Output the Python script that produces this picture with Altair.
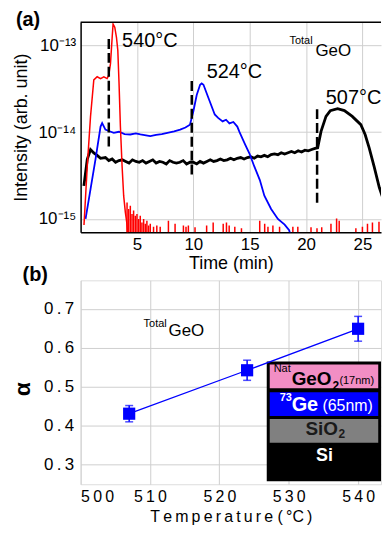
import altair as alt
import pandas as pd

FONT = "Liberation Sans"
THIN = "\u2009"

# ---------------- Panel (a): intensity (units of 1e-15 arb. unit) vs time (min)
red_t = [0.30, 0.59, 0.88, 1.17, 1.47, 1.77, 2.06, 2.35, 2.50, 2.65, 2.80, 2.88,
         3.03, 3.18, 3.30, 3.41, 3.53, 3.68, 3.82, 3.97, 4.10, 4.20]
red_v = [0.85, 4.05, 15.2, 40.0, 43.5, 41.5, 43.5, 41.5, 45.4, 61.6, 124, 176,
         162, 124, 87.7, 36.4, 11.6, 4.05, 1.84, 1.19, 0.90, 0.60]

spike_t = [4.12, 4.26, 4.41, 4.56, 4.70, 4.85, 5.00, 5.15, 5.29, 5.44,
           5.59, 5.74, 5.88, 6.03, 6.18, 6.47, 6.76, 7.06, 7.79, 8.38,
           9.12, 9.35, 9.56, 10.15, 11.18, 11.76, 12.65, 12.94, 13.18, 13.68,
           14.27, 15.89, 16.33, 16.62, 17.06, 17.65, 18.83, 19.27, 20.44, 20.97,
           21.39, 22.21, 22.71, 22.94, 24.42, 25.00, 25.45, 25.89, 26.47]
spike_v = [1.55, 1.30, 1.42, 1.14, 1.25, 1.09, 1.14, 1.00, 1.09, 0.91,
           1.00, 0.88, 0.95, 0.84, 0.88, 0.81, 0.84, 0.81, 0.95, 0.88,
           0.84, 0.81, 0.84, 0.80, 0.84, 0.91, 0.88, 0.91, 0.84, 0.81,
           0.78, 0.95, 0.88, 0.81, 0.84, 0.81, 0.81, 0.81, 0.80, 0.78,
           0.80, 0.88, 1.01, 0.95, 0.78, 0.81, 0.88, 0.91, 0.93]

blue_t = [0.44, 0.88, 1.32, 1.77, 1.91, 2.20, 2.50, 2.94, 3.40, 3.90,
          4.41, 4.90, 5.30, 5.80, 6.18, 6.70, 7.20, 7.70, 8.30, 8.83,
          9.30, 9.70, 10.00, 10.30, 10.60, 10.74, 10.90, 11.30, 11.90, 12.20,
          12.60, 12.90, 13.20, 13.55, 13.90, 14.10, 14.60, 15.00, 15.40, 15.90,
          16.30, 16.90, 17.50, 18.10, 18.50, 18.70]
blue_v = [1.0, 2.2, 4.85, 11.6, 12.7, 10.7, 10.3, 9.8, 10.1, 9.5,
          9.4, 9.7, 9.4, 9.2, 9.0, 9.3, 9.5, 9.8, 10.2, 10.7,
          11.3, 12.2, 17.3, 26.8, 35.2, 36.4, 35.2, 25.6, 16.0, 14.6,
          13.3, 13.9, 12.6, 13.1, 11.6, 10.0, 7.2, 5.6, 4.05, 2.8,
          1.85, 1.3, 1.0, 0.86, 0.74, 0.6]

black_t = [0.29, 0.59, 0.88, 1.17, 1.47, 1.77,
           2.2, 2.5, 2.8, 3.1, 3.4, 3.7, 4.0, 4.3, 4.6, 4.9,
           5.2, 5.5, 5.8, 6.1, 6.4, 6.7, 7.0, 7.3, 7.6, 7.9,
           8.2, 8.5, 8.8, 9.1, 9.4, 9.7, 10.0, 10.3, 10.6, 10.9,
           11.2, 11.5, 11.8, 12.1, 12.4, 12.7, 13.0, 13.3, 13.6, 13.9,
           14.2, 14.5, 14.8, 15.1, 15.4, 15.7, 16.0, 16.3, 16.6, 16.9,
           17.2, 17.5, 17.8, 18.1, 18.4, 18.7, 19.0, 19.3, 19.6, 19.9,
           20.2, 20.5, 20.8,
           21.03, 21.33, 21.77, 22.15, 22.8, 23.4, 24.1, 24.86, 25.24, 25.6,
           26.04, 26.5, 26.9, 27.36, 27.6]
black_v = [2.4, 4.85, 6.3, 5.75, 5.4, 5.0,
           5.1, 4.7, 4.9, 4.5, 4.7, 4.8, 4.6, 4.4, 4.8, 4.6,
           4.5, 4.7, 4.4, 4.6, 4.8, 4.4, 4.6, 4.5, 4.3, 4.7,
           4.5, 4.4, 4.5, 4.7, 4.3, 4.5, 4.5, 4.3, 4.6, 4.4,
           4.6, 4.8, 4.6, 4.7, 4.9, 4.7, 4.8, 5.0, 4.8, 5.0,
           5.1, 4.9, 5.1, 5.2, 5.0, 5.3, 5.2, 5.4, 5.2, 5.5,
           5.6, 5.5, 5.8, 5.6, 5.8, 6.0, 5.8, 6.1, 5.9, 6.2,
           6.1, 6.3, 6.5,
           6.6, 10.2, 15.2, 17.7, 18.6, 17.7, 15.2, 12.2, 9.4, 6.6,
           4.0, 2.3, 1.6, 1.0, 0.85]

dash_t = [2.50, 9.86, 20.98]
dash_lo = [6.85, 3.25, 1.54]
dash_hi = [130.0, 39.8, 19.2]

temp_lbl = ["540°C", "524°C", "507°C"]
temp_lbl_t = [3.68, 11.18, 21.75]
temp_lbl_v = [112.0, 49.6, 24.5]

a_txt = ["Total", "GeO"]
a_txt_t = [18.53, 20.83]
a_txt_v = [112.0, 86.0]
a_txt_fs = [11, 17]

panel_a_lbl = ["(a)"]
panel_a_lbl_t = [-5.74]
panel_a_lbl_v = [194.6]

X_DOM = [0.0, 26.65]
Y_DOM = [0.703, 184.6]

# ---------------- Panel (b): alpha vs temperature
temps = [507, 524, 540]
alpha = [0.430, 0.542, 0.649]
alpha_err = [0.021, 0.026, 0.032]

stack_x0 = [526.83, 527.26, 527.26, 527.26]
stack_x1 = [543.30, 542.90, 542.90, 542.90]
stack_y0 = [0.2558, 0.4958, 0.4243, 0.3553]
stack_y1 = [0.5647, 0.5570, 0.4855, 0.4166]
stack_col = ["#000000", "#F28EC4", "#0000FF", "#808080"]

bold_txt = ["GeO", "2", "73", "Ge", "SiO", "2", "Si", "(b)", "α"]
bold_x = [530.42, 536.30, 528.69, 530.42, 532.42, 537.16, 533.93, 491.64, 491.64]
bold_y = [0.5187, 0.5020, 0.4702, 0.4536, 0.3910, 0.3770, 0.3196, 0.7868, 0.4932]
bold_fs = [19, 12, 11, 20, 19, 12, 18, 20, 23]
bold_c = ["#000000", "#000000", "#FFFFFF", "#FFFFFF", "#1A1A1A", "#1A1A1A", "#FFFFFF",
          "#000000", "#000000"]
bold_align = ["left", "left", "left", "left", "left", "left", "left", "left", "center"]

norm_txt = ["Nat", "(17nm)", "(65nm)", "Total", "GeO"]
norm_x = [527.83, 537.30, 534.86, 509.08, 512.67]
norm_y = [0.5443, 0.5136, 0.4500, 0.6617, 0.6438]
norm_fs = [11, 11, 16, 11, 17]
norm_c = ["#000000", "#000000", "#FFFFFF", "#000000", "#000000"]

XB_DOM = [500, 543.3]
YB_DOM = [0.248, 0.774]

# ================= build panel (a)
axis_common = dict(labelFont=FONT, titleFont=FONT, labelColor="black", titleColor="black",
                   gridColor="#cfcfcf", gridWidth=1, ticks=False)

xs_a = alt.Scale(domain=X_DOM, nice=False, zero=False)
ys_a = alt.Scale(type="log", domain=Y_DOM, nice=False)

x_a = alt.X("t:Q", scale=xs_a, axis=alt.Axis(
    values=[5, 10, 15, 20, 25], title="Time (min)", grid=True, domain=True,
    domainColor="black", domainWidth=1.5, labelFontSize=17, titleFontSize=18,
    labelPadding=4, titlePadding=3, titleFontWeight="normal", **axis_common))
y_a = alt.Y("v:Q", scale=ys_a, axis=alt.Axis(
    values=[1, 10, 100], grid=True, domain=True, domainColor="black", domainWidth=1.5,
    labelExpr="datum.value >= 50 ? '10⁻¹³' : datum.value >= 5 ? '10⁻¹⁴' : '10⁻¹⁵'",
    title="Intensity (arb. unit)", labelFontSize=17, titleFontSize=18,
    labelPadding=5, titlePadding=8, titleFontWeight="normal", **axis_common))
xa = alt.X("t:Q", scale=xs_a)
ya = alt.Y("v:Q", scale=ys_a)

df_red = pd.DataFrame({"t": red_t, "v": red_v})
df_blue = pd.DataFrame({"t": blue_t, "v": blue_v})
df_black = pd.DataFrame({"t": black_t, "v": black_v})
df_spk = pd.DataFrame({"t": spike_t, "v": spike_v})
df_dash = pd.DataFrame({"t": dash_t, "v": dash_lo, "v2": dash_hi})
df_tl = pd.DataFrame({"t": temp_lbl_t, "v": temp_lbl_v, "label": temp_lbl})
df_at = pd.DataFrame({"t": a_txt_t, "v": a_txt_v, "label": a_txt, "fs": a_txt_fs})
df_pa = pd.DataFrame({"t": panel_a_lbl_t, "v": panel_a_lbl_v, "label": panel_a_lbl})
df_top = pd.DataFrame({"t": [X_DOM[0]], "t2": [X_DOM[1]], "v": [Y_DOM[1]]})

l_black = alt.Chart(df_black).mark_line(color="black", strokeWidth=2.8, clip=True).encode(x=x_a, y=y_a)
l_blue = alt.Chart(df_blue).mark_line(color="#0000FF", strokeWidth=1.8, clip=True).encode(x=xa, y=ya)
l_red = alt.Chart(df_red).mark_line(color="#FF0000", strokeWidth=1.5, clip=True).encode(x=xa, y=ya)
l_spk = alt.Chart(df_spk).mark_rule(color="#FF0000", strokeWidth=1.5, clip=True).encode(
    x=xa, y=ya, y2=alt.datum(Y_DOM[0]))
l_dash = alt.Chart(df_dash).mark_rule(color="black", strokeWidth=2.5, strokeDash=[10, 4]).encode(
    x=xa, y=ya, y2="v2:Q")
l_tl = alt.Chart(df_tl).mark_text(align="left", baseline="middle", font=FONT, fontSize=20,
                                  color="black").encode(x=xa, y=ya, text="label:N")
l_at = alt.Chart(df_at).mark_text(align="left", baseline="middle", font=FONT, color="black").encode(
    x=xa, y=ya, text="label:N", size=alt.Size("fs:Q", scale=None))
l_pa = alt.Chart(df_pa).mark_text(align="left", baseline="middle", font=FONT, fontSize=20,
                                  fontWeight="bold", color="black").encode(x=xa, y=ya, text="label:N")
l_top = alt.Chart(df_top).mark_rule(color="black", strokeWidth=1.5).encode(x=xa, x2="t2:Q", y=ya)

panel_a = alt.layer(l_black, l_blue, l_red, l_spk, l_dash, l_tl, l_at, l_pa, l_top).properties(
    width=302, height=211, view=alt.ViewBackground(stroke="transparent"))

# ================= build panel (b)
xs_b = alt.Scale(domain=XB_DOM, nice=False, zero=False)
ys_b = alt.Scale(domain=YB_DOM, nice=False, zero=False)
x_b = alt.X("T:Q", scale=xs_b, axis=alt.Axis(
    values=[500, 510, 520, 530, 540], grid=True, domain=False,
    labelExpr="join(split(toString(datum.value), ''), '" + THIN + "')",
    title=THIN.join("Temperature") + " (" + THIN + "°C" + THIN + ")",
    labelFontSize=16, titleFontSize=16, labelPadding=4, titlePadding=4,
    titleFontWeight="normal", **axis_common))
y_b = alt.Y("A:Q", scale=ys_b, axis=alt.Axis(
    values=[0.3, 0.4, 0.5, 0.6, 0.7], grid=True, domain=False,
    labelExpr="join(split(format(datum.value, '.1f'), ''), '" + THIN + "')",
    title="", labelFontSize=17, labelPadding=7, **axis_common))
xb = alt.X("T:Q", scale=xs_b)
yb = alt.Y("A:Q", scale=ys_b)

df_pts = pd.DataFrame({"T": temps, "A": alpha,
                       "lo": [a - e for a, e in zip(alpha, alpha_err)],
                       "hi": [a + e for a, e in zip(alpha, alpha_err)]})
df_stack = pd.DataFrame({"T": stack_x0, "T2": stack_x1, "A": stack_y0, "A2": stack_y1, "c": stack_col})
df_bold = pd.DataFrame({"T": bold_x, "A": bold_y, "label": bold_txt, "fs": bold_fs, "c": bold_c,
                        "al": bold_align})
df_norm = pd.DataFrame({"T": norm_x, "A": norm_y, "label": norm_txt, "fs": norm_fs, "c": norm_c})

b_stack = alt.Chart(df_stack).mark_rect().encode(
    x=x_b, x2="T2:Q", y=y_b, y2="A2:Q", color=alt.Color("c:N", scale=None))
b_line = alt.Chart(df_pts).mark_line(color="#0000FF", strokeWidth=1.3).encode(x=xb, y=yb)
b_err = alt.Chart(df_pts).mark_rule(color="#0000FF", strokeWidth=1.5).encode(
    x=xb, y=alt.Y("lo:Q", scale=ys_b), y2="hi:Q")
b_cap_lo = alt.Chart(df_pts).mark_tick(color="#0000FF", orient="horizontal", size=8, thickness=1.5).encode(
    x=xb, y=alt.Y("lo:Q", scale=ys_b))
b_cap_hi = alt.Chart(df_pts).mark_tick(color="#0000FF", orient="horizontal", size=8, thickness=1.5).encode(
    x=xb, y=alt.Y("hi:Q", scale=ys_b))
b_pts = alt.Chart(df_pts).mark_square(color="#0000FF", size=150, opacity=1).encode(x=xb, y=yb)
b_bold_l = alt.Chart(df_bold[df_bold["al"] == "left"]).mark_text(
    align="left", baseline="middle", font=FONT, fontWeight="bold").encode(
    x=xb, y=yb, text="label:N", size=alt.Size("fs:Q", scale=None), color=alt.Color("c:N", scale=None))
b_bold_r = alt.Chart(df_bold[df_bold["al"] == "center"]).mark_text(
    align="center", baseline="middle", font=FONT, fontWeight="bold", angle=270).encode(
    x=xb, y=yb, text="label:N", size=alt.Size("fs:Q", scale=None), color=alt.Color("c:N", scale=None))
b_norm = alt.Chart(df_norm).mark_text(align="left", baseline="middle", font=FONT).encode(
    x=xb, y=yb, text="label:N", size=alt.Size("fs:Q", scale=None), color=alt.Color("c:N", scale=None))

panel_b = alt.layer(b_stack, b_line, b_err, b_cap_lo, b_cap_hi, b_pts, b_bold_l, b_bold_r, b_norm).properties(
    width=302, height=205)

chart = alt.vconcat(panel_a, panel_b, spacing=48.4, bounds="flush").properties(
    padding={"left": 3, "top": 0, "right": 0, "bottom": 0}
).configure_view(stroke="black", strokeWidth=1.5).configure(font=FONT)

chart.save("out.html", embed_options={"renderer": "svg", "actions": False})
